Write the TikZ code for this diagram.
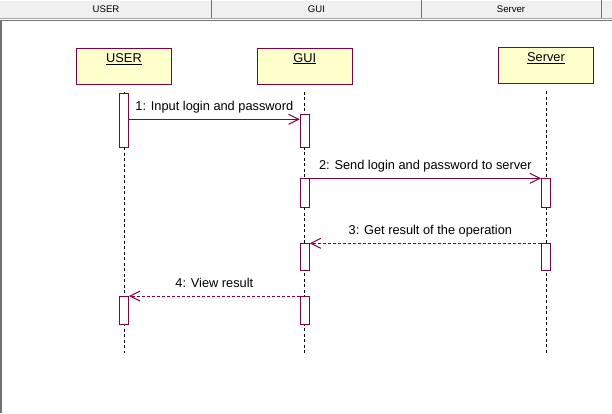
\documentclass[tikz,border=0pt]{standalone}
\usepackage{fontspec}
\setmainfont{Liberation Sans}
\usetikzlibrary{arrows.meta}
\definecolor{umlred}{RGB}{128,0,64}
\definecolor{umlyellow}{RGB}{255,255,204}
\definecolor{hdrgray}{RGB}{240,240,240}
\begin{document}
\begin{tikzpicture}[x=1pt, y=-1pt,
    actor/.style={draw=umlred, fill=umlyellow, line width=1pt, minimum width=95pt, minimum height=36pt, inner sep=0pt},
    act/.style={draw=umlred, fill=white, line width=1pt, minimum width=9pt, inner sep=0pt, anchor=north},
    life/.style={line width=1pt, dash pattern=on 3pt off 2.5pt},
    msg/.style={umlred, line width=1pt, -{Straight Barb[length=10pt, width=10pt, line width=1pt]}},
    ret/.style={msg, dash pattern=on 3pt off 2pt},
    lbl/.style={black, font=\fontsize{12.8}{14}\selectfont, anchor=base, yshift=9pt, inner sep=0pt},
    hdr/.style={font=\fontsize{9.6}{11}\selectfont, inner sep=0pt}]
    \useasboundingbox (0, 0) rectangle (612, 413);
    \fill[white] (0, 0) rectangle (612, 413);
    \fill[hdrgray] (0, 0) rectangle (612, 18);
    \draw[white, line width=1pt] (0, .5) -- (612, .5);
    \draw[gray!70, line width=1pt] (0, 18.5) -- (612, 18.5);
    \draw[gray!90!black, line width=1pt] (0, 20.5) -- (612, 20.5);
    \draw[gray!90!black, line width=1.5pt] (1, 20.5) -- (1, 413);
    \draw[gray!90!black, line width=1pt] (211.5, 0) -- (211.5, 18);
    \draw[gray!90!black, line width=1pt] (421, 0) -- (421, 18);
    \draw[gray!90!black, line width=1pt] (601, 0) -- (601, 18);
    \node[hdr] (hUser) at (106, 9.3) {USER};
    \node[hdr] (hGui) at (316.5, 9.3) {GUI};
    \node[hdr] (hServer) at (511, 9.3) {Server};

    \node[actor] (user) at (124, 66.7) {};
    \node[actor] (gui) at (304.7, 66) {};
    \node[actor] (server) at (546, 65.8) {};
    \node[lbl, yshift=-9pt] (userText) at ([yshift=-14.5pt]user.north) {\underline{USER}};
    \node[lbl, yshift=-9pt] (guiText) at ([yshift=-14.5pt]gui.north) {\underline{GUI}};
    \node[lbl, yshift=-9pt] (serverText) at ([yshift=-14.5pt]server.north) {\underline{Server}};

    \coordinate (lifeEnd) at (0, 353);
    \draw[life] ([yshift=-7pt]user.south) -- (user.south |- lifeEnd);
    \draw[life] ([yshift=-7pt]gui.south) -- (gui.south |- lifeEnd);
    \draw[life] ([yshift=-7pt]server.south) -- (server.south |- lifeEnd);

    \node[act, minimum height=54pt] (u1) at (124, 93.3) {};
    \node[act, minimum height=33pt] (g1) at (304.7, 114.3) {};
    \node[act, minimum height=28.4pt] (g2) at (304.7, 178.3) {};
    \node[act, minimum height=28.4pt] (s1) at (546, 178.3) {};
    \node[act, minimum height=26.7pt] (g3) at (304.7, 243.3) {};
    \node[act, minimum height=26.7pt] (s2) at (546, 243.3) {};
    \node[act, minimum height=28.3pt] (g4) at (304.7, 296) {};
    \node[act, minimum height=28.3pt] (u2) at (124, 296) {};

    \coordinate (m1) at ([yshift=-5pt]g1.north west);
    \draw[msg] (u1.east |- m1) -- (m1) node[lbl, midway] {1: Input login and password};
    \draw[msg] (g2.north east) -- (s1.north west) node[lbl, midway] {2: Send login and password to server};
    \draw[ret] (s2.north west) -- (g3.north east) node[lbl, midway, xshift=5pt] {3: Get result of the operation};
    \draw[ret] (g4.north west) -- (u2.north east) node[lbl, midway] {4: View result};
\end{tikzpicture}
\end{document}
